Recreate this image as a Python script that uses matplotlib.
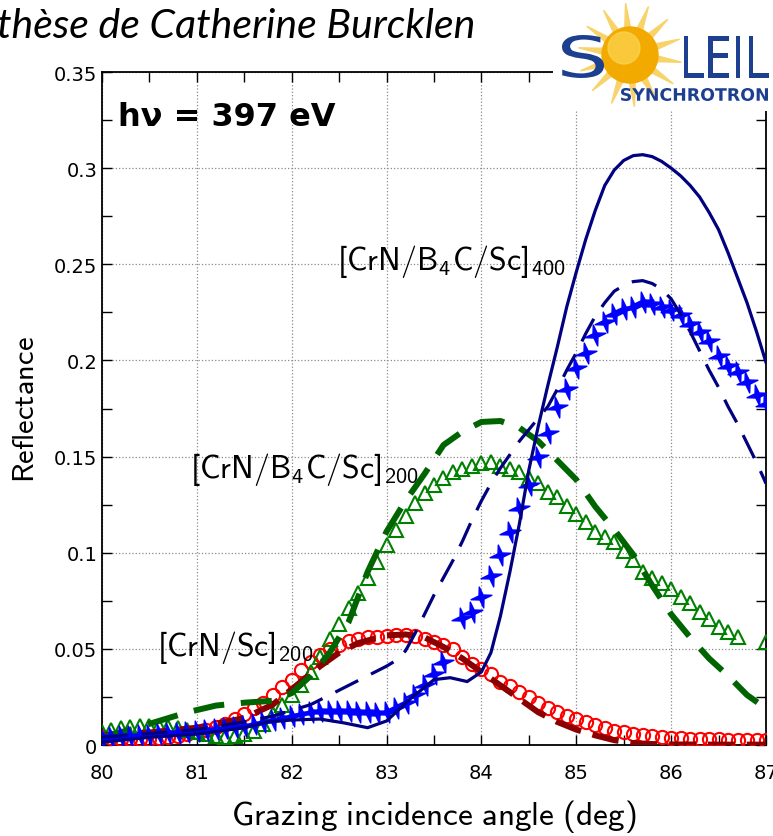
import matplotlib
matplotlib.use("Agg")
import matplotlib.pyplot as plt
from matplotlib.patches import Circle, Polygon, PathPatch
from matplotlib.path import Path
from matplotlib.textpath import TextPath
from matplotlib.font_manager import FontProperties
from matplotlib.transforms import Affine2D
import numpy as np

# sans-serif Computer Modern for the math labels, subscripts included
plt.rcParams["mathtext.fontset"] = "custom"
plt.rcParams["mathtext.rm"] = "cmss10"
plt.rcParams["mathtext.sf"] = "cmss10"
plt.rcParams["mathtext.it"] = "cmss10"

# [CrN/Sc]200 measured (red circles)
circ_x = [80.0, 80.1, 80.2, 80.3, 80.4, 80.5, 80.6, 80.7, 80.8, 80.9,
          81.0, 81.1, 81.2, 81.3, 81.4, 81.5, 81.6, 81.7, 81.8, 81.9,
          82.0, 82.1, 82.2, 82.3, 82.4, 82.5, 82.6, 82.7, 82.8, 82.9,
          83.0, 83.1, 83.2, 83.3, 83.4, 83.5, 83.6, 83.7, 83.8, 83.9,
          84.0, 84.1, 84.2, 84.3, 84.4, 84.5, 84.6, 84.7, 84.8, 84.9,
          85.0, 85.1, 85.2, 85.3, 85.4, 85.5, 85.6, 85.7, 85.8, 85.9,
          86.0, 86.1, 86.2, 86.3, 86.4, 86.5, 86.6, 86.7, 86.8, 86.9, 87.0]
circ_y = [0.004, 0.0035, 0.003, 0.003, 0.003, 0.003, 0.0035, 0.004, 0.0045, 0.0055,
          0.007, 0.008, 0.0095, 0.011, 0.0135, 0.016, 0.019, 0.022, 0.026, 0.030,
          0.034, 0.039, 0.043, 0.047, 0.050, 0.052, 0.054, 0.055, 0.056, 0.056,
          0.0565, 0.057, 0.057, 0.0565, 0.055, 0.0535, 0.052, 0.050, 0.046, 0.042,
          0.0395, 0.037, 0.033, 0.0305, 0.0276, 0.025, 0.022, 0.0195, 0.017, 0.015,
          0.0135, 0.012, 0.0105, 0.009, 0.0075, 0.0068, 0.0058, 0.005, 0.0045, 0.004,
          0.0037, 0.0035, 0.0033, 0.0031, 0.003, 0.0029, 0.0028, 0.0027, 0.0026, 0.0025, 0.0025]

# [CrN/Sc]200 simulation (dark red dashed)
sc_x = [80.0, 80.5, 81.0, 81.5, 81.8, 82.0, 82.3, 82.5, 82.7, 83.0, 83.2, 83.4, 83.6,
        83.8, 84.0, 84.2, 84.4, 84.6, 84.8, 85.0, 85.2, 85.4, 85.6, 85.8, 86.0, 86.5, 87.0]
sc_y = [0.005, 0.0065, 0.009, 0.014, 0.021, 0.029, 0.041, 0.048, 0.053, 0.057, 0.0575, 0.056, 0.051,
        0.045, 0.038, 0.031, 0.024, 0.017, 0.012, 0.008, 0.005, 0.0025, 0.001, 0.0005, 0.0003, 0.0002, 0.0002]

# [CrN/B4C/Sc]200 measured (green triangles)
tri_x = [80.0, 80.1, 80.2, 80.3, 80.4, 80.5, 80.6, 80.7, 80.8, 80.9,
         81.0, 81.1, 81.2, 81.3, 81.4, 81.5, 81.6, 81.7, 81.8, 81.9,
         82.0, 82.1, 82.2, 82.3, 82.4, 82.5, 82.6, 82.7, 82.8, 82.9,
         83.0, 83.1, 83.2, 83.3, 83.4, 83.5, 83.6, 83.7, 83.8, 83.9,
         84.0, 84.1, 84.2, 84.3, 84.4, 84.5, 84.6, 84.7, 84.8, 84.9,
         85.0, 85.1, 85.2, 85.3, 85.4, 85.5, 85.6, 85.7, 85.8, 85.9,
         86.0, 86.1, 86.2, 86.3, 86.4, 86.5, 86.6, 86.7, 87.0]
tri_y = [0.007, 0.008, 0.009, 0.0095, 0.010, 0.010, 0.010, 0.0095, 0.009, 0.008,
         0.007, 0.0055, 0.0045, 0.004, 0.0045, 0.0055, 0.0075, 0.011, 0.016, 0.021,
         0.026, 0.031, 0.038, 0.046, 0.055, 0.063, 0.071, 0.079, 0.087, 0.095,
         0.104, 0.112, 0.119, 0.126, 0.131, 0.135, 0.139, 0.142, 0.1435, 0.145,
         0.1465, 0.147, 0.145, 0.1435, 0.142, 0.139, 0.136, 0.1315, 0.129, 0.1245,
         0.120, 0.116, 0.111, 0.108, 0.1055, 0.101, 0.096, 0.090, 0.087, 0.084,
         0.081, 0.077, 0.074, 0.069, 0.0656, 0.0614, 0.0588, 0.056, 0.0536]

# [CrN/B4C/Sc]200 simulation (green dashed)
b200_x = [80.0, 80.3, 80.6, 80.9, 81.2, 81.5, 81.8, 82.0, 82.2, 82.4, 82.6, 82.8, 83.0,
          83.2, 83.4, 83.6, 83.8, 84.0, 84.2, 84.4, 84.6, 84.8, 85.0, 85.2, 85.4, 85.6,
          85.8, 86.0, 86.2, 86.4, 86.6, 86.8, 87.0]
b200_y = [0.004, 0.008, 0.0125, 0.017, 0.0205, 0.022, 0.023, 0.027, 0.036, 0.048, 0.064, 0.090, 0.111,
          0.127, 0.141, 0.156, 0.163, 0.168, 0.1685, 0.165, 0.158, 0.148, 0.138, 0.124, 0.112, 0.099,
          0.083, 0.068, 0.056, 0.045, 0.036, 0.026, 0.019]

# [CrN/B4C/Sc]400 measured (blue stars)
star_x = [80.0, 80.1, 80.2, 80.3, 80.4, 80.5, 80.6, 80.7, 80.8, 80.9,
          81.0, 81.1, 81.2, 81.3, 81.4, 81.5, 81.6, 81.7, 81.8, 81.9,
          82.0, 82.1, 82.2, 82.3, 82.4, 82.5, 82.6, 82.7, 82.8, 82.9,
          83.0, 83.1, 83.2, 83.3, 83.4, 83.5, 83.6, 83.8, 83.9,
          84.0, 84.1, 84.2, 84.3, 84.4, 84.5, 84.6, 84.7, 84.8, 84.9,
          85.0, 85.1, 85.2, 85.3, 85.4, 85.5, 85.6, 85.7, 85.8, 85.9,
          86.0, 86.1, 86.2, 86.3, 86.4, 86.5, 86.6, 86.7, 86.8, 86.9, 87.0]
star_y = [0.004, 0.004, 0.0045, 0.0045, 0.005, 0.005, 0.0055, 0.006, 0.0065, 0.007,
          0.0075, 0.008, 0.0085, 0.009, 0.0095, 0.010, 0.011, 0.012, 0.013, 0.014,
          0.015, 0.016, 0.017, 0.0175, 0.0175, 0.0175, 0.0175, 0.017, 0.017, 0.0165,
          0.017, 0.019, 0.022, 0.026, 0.031, 0.037, 0.043, 0.066, 0.069,
          0.077, 0.088, 0.099, 0.111, 0.123, 0.135, 0.150, 0.162, 0.176, 0.185,
          0.196, 0.204, 0.213, 0.220, 0.224, 0.227, 0.228, 0.2305, 0.2295, 0.228,
          0.226, 0.2235, 0.219, 0.215, 0.210, 0.2025, 0.197, 0.194, 0.189, 0.182, 0.1775]

# [CrN/B4C/Sc]400 simulations (navy dashed and solid)
b400d_x = [80.0, 80.5, 81.0, 81.5, 81.8, 82.0, 82.2, 82.4, 82.6, 82.8, 83.0, 83.1, 83.2,
           83.3, 83.4, 83.5, 83.6, 83.7, 83.8, 83.9, 84.0, 84.1, 84.2, 84.3, 84.4, 84.5,
           84.6, 84.7, 84.8, 84.9, 85.0, 85.1, 85.2, 85.3, 85.4, 85.5, 85.6, 85.7, 85.8,
           85.9, 86.0, 86.1, 86.2, 86.3, 86.4, 86.5, 86.6, 86.7, 86.8, 86.9, 87.0]
b400d_y = [0.004, 0.006, 0.008, 0.012, 0.015, 0.018, 0.021, 0.026, 0.031, 0.036, 0.041, 0.044, 0.049,
           0.058, 0.068, 0.078, 0.087, 0.096, 0.106, 0.117, 0.127, 0.136, 0.144, 0.151, 0.158, 0.164,
           0.170, 0.176, 0.185, 0.195, 0.204, 0.214, 0.223, 0.230, 0.236, 0.239, 0.241, 0.2415, 0.240,
           0.237, 0.232, 0.224, 0.215, 0.205, 0.195, 0.186, 0.176, 0.167, 0.157, 0.147, 0.136]

b400s_x = [80.0, 80.5, 81.0, 81.5, 81.75, 82.0, 82.3, 82.55, 82.8, 83.0, 83.25, 83.5, 83.67,
           83.85, 84.0, 84.1, 84.2, 84.3, 84.4, 84.5, 84.6, 84.7, 84.8, 84.9, 85.0, 85.1,
           85.2, 85.3, 85.4, 85.5, 85.6, 85.7, 85.8, 85.9, 86.0, 86.1, 86.2, 86.3, 86.4,
           86.5, 86.6, 86.7, 86.8, 86.9, 87.0]
b400s_y = [0.0015, 0.004, 0.0057, 0.009, 0.012, 0.013, 0.0135, 0.0115, 0.009, 0.0125, 0.024, 0.034, 0.035,
           0.033, 0.038, 0.048, 0.067, 0.090, 0.115, 0.143, 0.166, 0.187, 0.207, 0.228, 0.246, 0.263,
           0.278, 0.291, 0.299, 0.304, 0.3065, 0.307, 0.306, 0.3035, 0.300, 0.296, 0.291, 0.285, 0.277,
           0.268, 0.256, 0.243, 0.230, 0.215, 0.199]

# thin four-pointed star used for the measured 400-period data
ang = np.deg2rad(np.arange(8) * 45 + 12)
rad = np.array([1.0, 0.28] * 4)
star_verts = np.column_stack([rad * np.cos(ang), rad * np.sin(ang)])
star_marker = Path(np.vstack([star_verts, star_verts[:1]]), closed=True)

fig = plt.figure(figsize=(7.73, 8.37), dpi=100)
ax = fig.add_axes([102 / 773, 1 - 746 / 837, 664 / 773, 673 / 837])

ax.plot(circ_x, circ_y, linestyle="none", marker="o", markersize=9.5, markerfacecolor="none",
        markeredgecolor="#ff0000", markeredgewidth=1.5, zorder=3)
ax.plot(sc_x, sc_y, color="#8b0000", linewidth=4.3, dashes=(4.5, 2.0), zorder=4)
ax.plot(tri_x, tri_y, linestyle="none", marker="^", markersize=10, markerfacecolor="none",
        markeredgecolor="#008000", markeredgewidth=1.5, zorder=3)
ax.plot(b200_x, b200_y, color="#006400", linewidth=4.3, dashes=(5.2, 2.8), zorder=4)
ax.plot(star_x, star_y, linestyle="none", marker=star_marker, markersize=15,
        color="#0000ff", zorder=5)
ax.plot(b400d_x, b400d_y, color="#000080", linewidth=2.3, dashes=(8, 4.5), zorder=6)
ax.plot(b400s_x, b400s_y, color="#000080", linewidth=2.3, zorder=6)

ax.set_xlim(80, 87)
ax.set_ylim(0, 0.35)
ax.set_xticks(np.arange(80, 87.5, 1))
ax.set_xticks(np.arange(80.5, 87, 1), minor=True)
ax.set_yticks(np.arange(0, 0.351, 0.05))
ax.set_yticks(np.arange(0.025, 0.35, 0.05), minor=True)
ax.set_xticklabels(["80", "81", "82", "83", "84", "85", "86", "87"])
ax.set_yticklabels(["0", "0.05", "0.1", "0.15", "0.2", "0.25", "0.3", "0.35"])
ax.tick_params(which="both", direction="in", top=True, right=True, labelsize=14)
ax.tick_params(which="both", length=7, width=1)
ax.tick_params(axis="x", pad=13)
ax.grid(True, which="major", linestyle=":", color="#8a8a8a", linewidth=0.9)
for s in ax.spines.values():
    s.set_linewidth(1.3)

ax.set_xlabel(r"$\mathrm{Grazing\ incidence\ angle\ (deg)}$", fontsize=24, labelpad=11)
ax.set_ylabel(r"$\mathrm{Reflectance}$", fontsize=22, labelpad=10)

ax.text(80.17, 0.327, "h\u03bd = 397 eV", fontsize=23, fontweight="bold", va="center", ha="left")
ax.text(82.48, 0.252, r"$\mathrm{[CrN/B_4C/Sc]_{400}}$", fontsize=23, va="center", ha="left")
ax.text(80.93, 0.1436, r"$\mathrm{[CrN/B_4C/Sc]_{200}}$", fontsize=23, va="center", ha="left")
ax.text(80.58, 0.051, r"$\mathrm{[CrN/Sc]_{200}}$", fontsize=23, va="center", ha="left")

fig.text(-0.004, 1 - 38 / 837, "thèse de Catherine Burcklen", fontsize=29.5, style="italic",
         family="Lato", ha="left", va="baseline")

# SOLEIL logo drawn in pixel coordinates of its own box
lax = fig.add_axes([553 / 773, 1 - 112 / 837, 220 / 773, 112 / 837], zorder=10)
lax.set_xlim(553, 773)
lax.set_ylim(112, 0)
lax.axis("off")
lax.add_patch(plt.Rectangle((553, 0), 220, 112, color="white", zorder=0))

cx, cy = 630, 56
for k in range(14):
    a = np.deg2rad(k * 360 / 14 + 8)
    w = np.deg2rad(8)
    pts = [(cx + 24 * np.cos(a - w), cy + 24 * np.sin(a - w)),
           (cx + 52 * np.cos(a), cy + 52 * np.sin(a)),
           (cx + 24 * np.cos(a + w), cy + 24 * np.sin(a + w))]
    lax.add_patch(Polygon(pts, closed=True, color="#f7d36a", zorder=1))
lax.add_patch(Circle((cx, cy), 28, color="#f2a900", zorder=2))
lax.add_patch(Circle((cx - 6, cy - 7), 16, color="#fbd24a", alpha=0.8, zorder=3))


def logo_word(text, x0, y_base, width, height, weight):
    tp = TextPath((0, 0), text, size=100, prop=FontProperties(family="DejaVu Sans", weight=weight))
    bb = tp.get_extents()
    tr = Affine2D().translate(-bb.x0, -bb.y0).scale(width / bb.width, -height / bb.height)
    tr = tr.translate(x0, y_base)
    lax.add_patch(PathPatch(tr.transform_path(tp), color="#1d3f8f", lw=0, zorder=4))


logo_word("S", 562, 79, 42, 43, "normal")
logo_word("LEIL", 684, 79, 85, 42, "normal")
logo_word("SYNCHROTRON", 621, 102, 147, 13, "bold")

fig.savefig("out.png", dpi=100)
